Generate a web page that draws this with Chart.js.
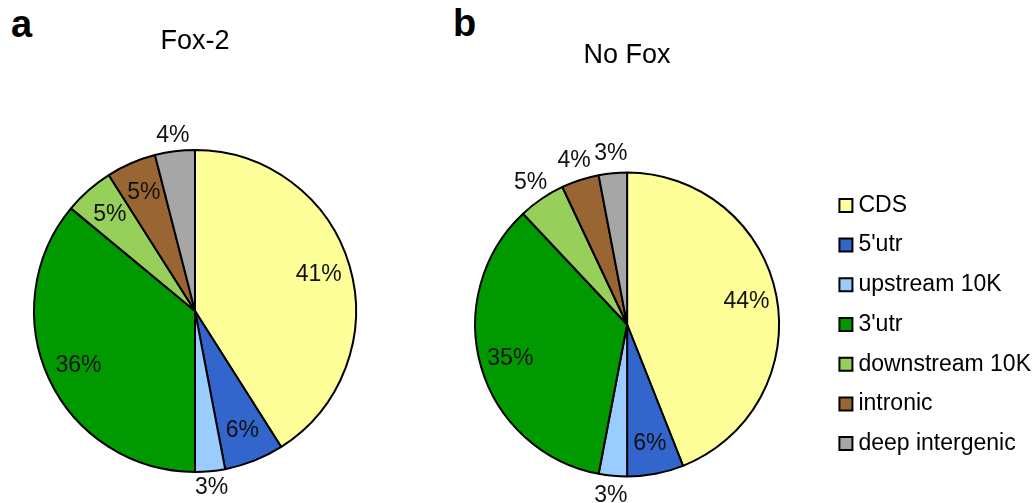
<!DOCTYPE html>
<html>
<head>
<meta charset="utf-8">
<script src="https://cdn.jsdelivr.net/npm/chart.js@4/dist/chart.umd.min.js"></script>
<style>
  html, body { margin: 0; padding: 0; background: #fff; }
  #wrap { position: relative; width: 1034px; height: 503px; overflow: hidden;
          font-family: "Liberation Sans", Arial, sans-serif; }
  #wrap canvas { position: absolute; top: 0; }
  .panel { position: absolute; font-weight: bold; font-size: 38px; line-height: 38px; color: #000; }
</style>
</head>
<body>
<div id="wrap">
  <div class="panel" style="left:11px;top:5px">a</div>
  <div class="panel" style="left:453px;top:4px">b</div>
  <canvas id="pieFox2" width="390" height="503" style="left:0"></canvas>
  <canvas id="pieNoFox" width="615" height="503" style="left:426px"></canvas>
</div>
<script>
// Genomic region categories and the share of sites (%) in each
const categories = ["CDS", "5'utr", "upstream 10K", "3'utr", "downstream 10K", "intronic", "deep intergenic"];
const fox2Values = [41, 6, 3, 36, 5, 5, 4];
const noFoxValues = [44, 6, 3, 35, 5, 4, 3];
const panelTitles = ["Fox-2", "No Fox"];

const sliceColors = ["#FFFF99", "#3366CC", "#99CCFF", "#009900", "#96D05A", "#996633", "#A6A6A6"];
const FONT = '"Liberation Sans", Arial, sans-serif';

// Writes "NN%" on each slice: inside for larger slices, just outside the rim for small ones
const percentLabels = {
  id: 'percentLabels',
  afterDatasetsDraw(chart, args, opts) {
    const ctx = chart.ctx;
    const values = chart.data.datasets[0].data;
    ctx.save();
    ctx.font = opts.size + 'px ' + FONT;
    ctx.fillStyle = opts.color;
    ctx.textAlign = 'center';
    ctx.textBaseline = 'middle';
    chart.getDatasetMeta(0).data.forEach((arc, i) => {
      const p = arc.getProps(['x', 'y', 'startAngle', 'endAngle', 'outerRadius'], true);
      const mid = (p.startAngle + p.endAngle) / 2;
      const inside = values[i] >= opts.insideMin;
      const d = p.outerRadius * (inside ? opts.inner : opts.outer);
      ctx.fillText(values[i] + '%', p.x + Math.cos(mid) * d, p.y + Math.sin(mid) * d);
    });
    ctx.restore();
  }
};

function makePie(canvasId, title, values, cfg) {
  return new Chart(document.getElementById(canvasId), {
    type: 'pie',
    data: {
      labels: categories,
      datasets: [{
        data: values,
        backgroundColor: sliceColors,
        borderColor: '#000',
        borderWidth: 2,
        radius: cfg.radius
      }]
    },
    options: {
      responsive: false,
      animation: false,
      events: [],
      layout: { padding: 0 },
      plugins: {
        title: {
          display: true,
          text: title,
          fullSize: false,
          color: '#000',
          font: { family: FONT, size: 27, weight: 'normal', lineHeight: 1.2 },
          padding: cfg.titlePadding
        },
        legend: cfg.legend,
        tooltip: { enabled: false },
        percentLabels: { size: 23, color: '#111', inner: 0.8, outer: cfg.outer, insideMin: cfg.insideMin }
      }
    },
    plugins: [percentLabels]
  });
}

makePie('pieFox2', panelTitles[0], fox2Values, {
  radius: 161,
  titlePadding: { top: 25.8, bottom: 60.8 },
  legend: { display: false },
  outer: 1.1,
  insideMin: 5
});

makePie('pieNoFox', panelTitles[1], noFoxValues, {
  radius: 152,
  titlePadding: { top: 39.8, bottom: 73.8 },
  legend: {
    display: true,
    position: 'right',
    fullSize: false,
    align: 'center',
    labels: {
      usePointStyle: true,
      pointStyle: 'rect',
      boxWidth: 2,
      boxHeight: 13,
      padding: 16.7,
      color: '#000',
      font: { family: FONT, size: 23 }
    }
  },
  outer: 1.13,
  insideMin: 6
});
</script>
</body>
</html>
